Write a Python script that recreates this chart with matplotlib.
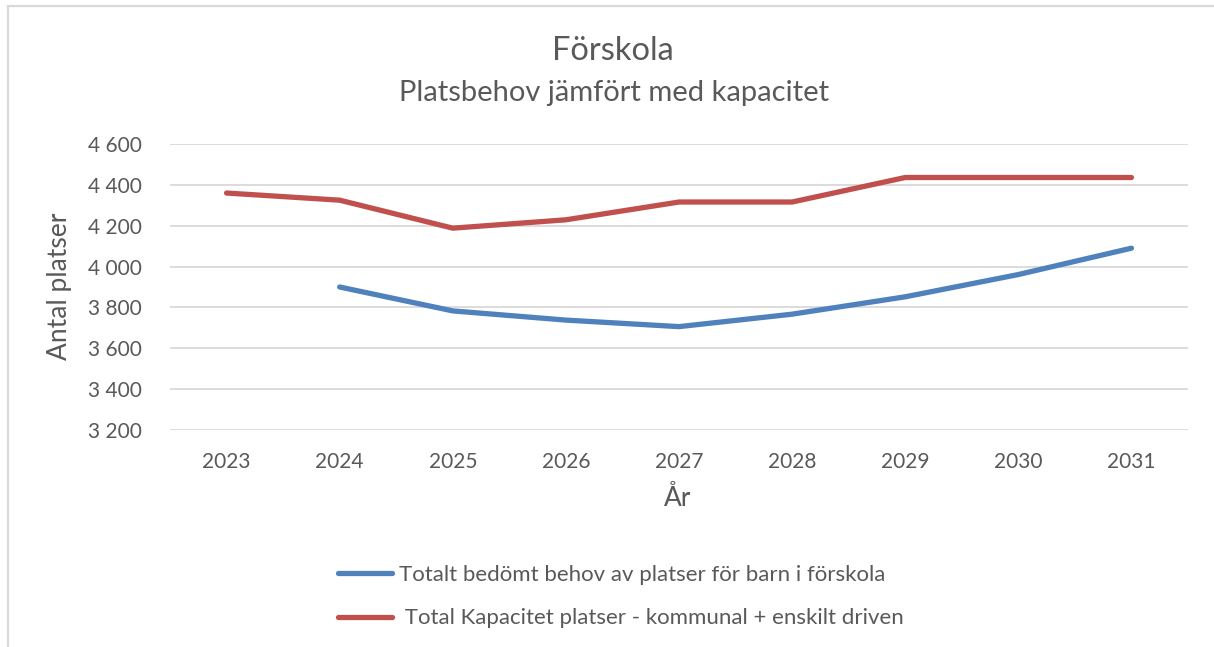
import matplotlib
matplotlib.use("Agg")
import matplotlib.pyplot as plt
from matplotlib.patches import Rectangle
from matplotlib.ticker import FuncFormatter

years = ["2023", "2024", "2025", "2026", "2027", "2028", "2029", "2030", "2031"]
behov_years = ["2024", "2025", "2026", "2027", "2028", "2029", "2030", "2031"]
behov = [3900, 3783, 3738, 3706, 3767, 3852, 3961, 4090]
kapacitet = [4360, 4325, 4188, 4229, 4316, 4316, 4436, 4436, 4436]
label_behov = "Totalt bedömt behov av platser för barn i förskola"
label_kap = " Total Kapacitet platser - kommunal + enskilt driven"

W, H = 1214, 647
plt.rcParams['font.family'] = ['Lato', 'DejaVu Sans']
fig = plt.figure(figsize=(W / 100, H / 100), dpi=100)
fig.patch.set_facecolor("white")

# chart frame
fig.patches.append(Rectangle((8 / W, -0.1), 1.2, (H - 6) / H + 0.1, transform=fig.transFigure,
                             fill=False, edgecolor="#D9D9D9", linewidth=1.6))

left, right, top, bottom = 170, 1188, 144, 430
ax = fig.add_axes([left / W, 1 - bottom / H, (right - left) / W, (bottom - top) / H])
xpos = {y: i for i, y in enumerate(years)}

ax.plot([xpos[y] for y in behov_years], behov, color="#4F81BD", lw=3.8,
        solid_capstyle="round", solid_joinstyle="round", label=label_behov)
ax.plot([xpos[y] for y in years], kapacitet, color="#C0504D", lw=3.8,
        solid_capstyle="round", solid_joinstyle="round", label=label_kap)

ax.set_xlim(-0.5, len(years) - 0.5)
ax.set_ylim(3200, 4600)
ax.set_yticks(range(3200, 4601, 200))
ax.yaxis.set_major_formatter(FuncFormatter(lambda v, p: f"{int(v):,}".replace(",", " ")))
ax.set_xticks(range(len(years)))
ax.set_xticklabels(years)
ax.grid(axis="y", color="#D9D9D9", lw=1.3)
ax.set_axisbelow(True)
for s in ax.spines.values():
    s.set_visible(False)
ax.tick_params(length=0, labelsize=15, colors="#595959")
ax.tick_params(axis="y", pad=20)
ax.tick_params(axis="x", pad=16)

fig.text(60 / W, 1 - 286 / H, "Antal platser", rotation=90, ha="center", va="center",
         fontsize=19, color="#595959")
fig.text(678 / W, 1 - 499 / H, "År", ha="center", va="center", fontsize=19, color="#595959")
fig.text(613 / W, 1 - 51 / H, "Förskola", ha="center", va="center", fontsize=23.5, color="#595959")
fig.text(614 / W, 1 - 93 / H, "Platsbehov jämfört med kapacitet", ha="center", va="center",
         fontsize=21, color="#595959")

leg = fig.legend(loc="upper left", bbox_to_anchor=(318 / W, 1 - 545 / H), frameon=False,
                 fontsize=16, labelcolor="#595959", handlelength=2.45, handletextpad=0.3,
                 labelspacing=1.05)

fig.savefig("out.png", dpi=100, facecolor="white")
